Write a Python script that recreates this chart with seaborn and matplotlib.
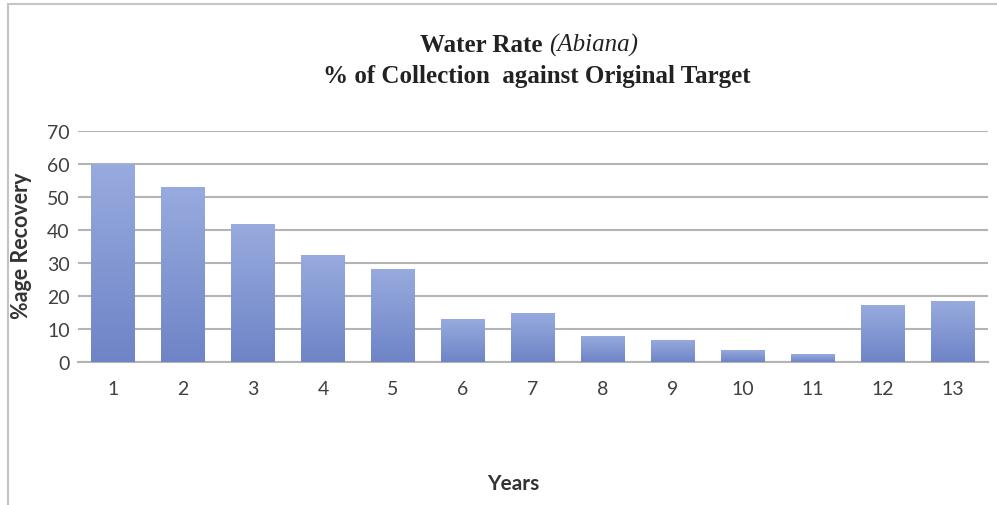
import numpy as np
import pandas as pd
import seaborn as sns
import matplotlib.pyplot as plt
from matplotlib.patches import Rectangle
from matplotlib.colors import LinearSegmentedColormap

# values
years = ["1", "2", "3", "4", "5", "6", "7", "8", "9", "10", "11", "12", "13"]
recovery = [60, 53, 41.7, 32.5, 28.3, 13, 15, 8, 6.8, 3.7, 2.4, 17.3, 18.4]
yticks = [0, 10, 20, 30, 40, 50, 60, 70]

df = pd.DataFrame({"year": years, "recovery": recovery})

sns.set_style("white")
plt.rcParams["font.family"] = ["Lato", "DejaVu Sans"]

fig = plt.figure(figsize=(9.97, 5.06), dpi=100)
ax = fig.add_axes([78 / 997, 1 - 363 / 506, 910 / 997, 231 / 506])

sns.barplot(data=df, x="year", y="recovery", color="#7f95d3", width=0.62,
            saturation=1, ax=ax, zorder=2)

# gradient fill like the office chart
cmap = LinearSegmentedColormap.from_list("bar", ["#6e84c6", "#98abdf"])
grad = np.linspace(0, 1, 100).reshape(-1, 1)
for p in ax.patches:
    x0, y0 = p.get_x(), p.get_y()
    w, h = p.get_width(), p.get_height()
    im = ax.imshow(grad, cmap=cmap, aspect="auto", origin="lower",
                   extent=[x0, x0 + w, y0, y0 + h], zorder=3)
    im.set_clip_path(p)
    p.set_edgecolor("none")

ax.set_xlim(-0.5, len(years) - 0.5)
ax.set_ylim(0, 70)
ax.set_yticks(yticks)
ax.yaxis.grid(True, color="#b4b4b4", linewidth=1.5, zorder=0)
ax.set_axisbelow(True)
for s in ["top", "right", "left"]:
    ax.spines[s].set_visible(False)
ax.spines["bottom"].set_color("#b4b4b4")
ax.spines["bottom"].set_linewidth(1.5)
ax.tick_params(axis="both", length=0, labelsize=14, colors="#404040")
ax.tick_params(axis="x", pad=13)
ax.tick_params(axis="y", pad=6)

ax.set_xlabel("")
ax.set_ylabel("")
fig.text(22 / 997, 1 - 246 / 506, "%age Recovery", rotation=90, ha="center",
         va="center", fontsize=15.5, fontweight="bold", color="#333333")
fig.text(513 / 997, 1 - 484 / 506, "Years", ha="center", va="center",
         fontsize=15, fontweight="bold", color="#333333")

# two-line title, serif bold, part of the first line italic
fig.text(549 / 997, 1 - 45 / 506, "Water Rate ", ha="right", va="center",
         family="Liberation Serif", fontweight="bold", fontsize=18, color="#222222")
fig.text(549 / 997, 1 - 45 / 506, "(Abiana)", ha="left", va="center",
         family="Liberation Serif", fontstyle="italic", fontsize=18, color="#222222")
fig.text(537 / 997, 1 - 77 / 506, "% of Collection  against Original Target",
         ha="center", va="center", family="Liberation Serif", fontweight="bold",
         fontsize=18, color="#222222")

# chart area border
fig.patches.append(Rectangle((8 / 997, -0.01), 1.0, 1 - 5 / 506 + 0.01,
                             transform=fig.transFigure, fill=False,
                             edgecolor="#c4c4c4", linewidth=1.5))

fig.savefig("out.png", dpi=100)
